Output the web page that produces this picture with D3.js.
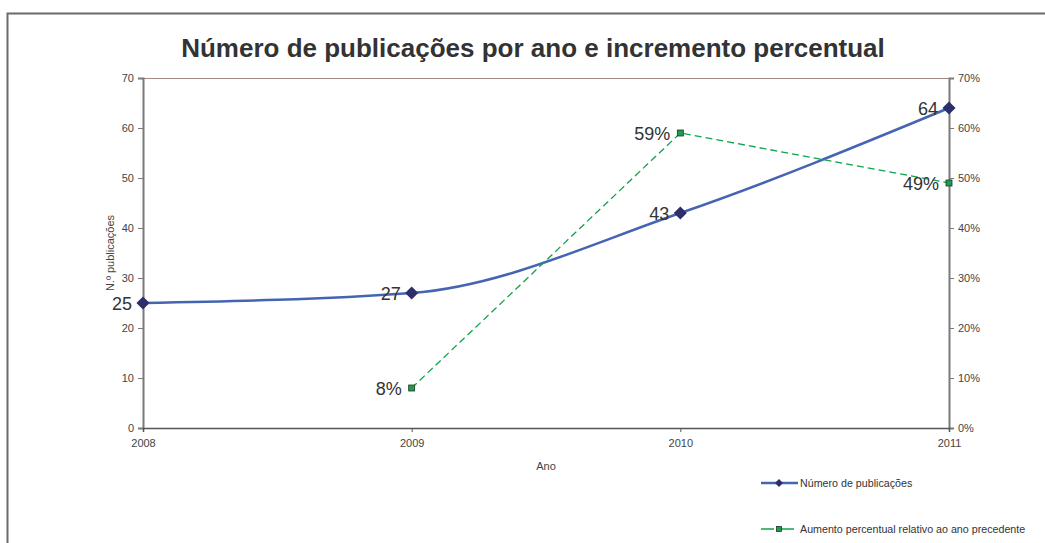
<!DOCTYPE html>
<html>
<head>
<meta charset="utf-8">
<script src="https://cdn.jsdelivr.net/npm/d3@7"></script>
<style>
  body { margin: 0; background: #fff; }
  svg { display: block; font-family: "Liberation Sans", Arial, sans-serif; }
</style>
</head>
<body>
<div id="chart"></div>
<script>
// data
const anos = [2008, 2009, 2010, 2011];
const publicacoes = [25, 27, 43, 64];
const anosPct = [2009, 2010, 2011];
const aumentoPct = [0.08, 0.59, 0.49];
const yTicks = [0, 10, 20, 30, 40, 50, 60, 70];
const pctTicks = [0, 0.1, 0.2, 0.3, 0.4, 0.5, 0.6, 0.7];

const width = 1045, height = 543;
const m = { left: 143, right: 949, top: 78, bottom: 428 };

const svg = d3.select('#chart').append('svg')
    .attr('width', width)
    .attr('height', height);

// outer frame (only left and top visible)
svg.append('path')
    .attr('d', 'M7.5,' + height + 'V13.5H' + width)
    .attr('fill', 'none')
    .attr('stroke', '#6b6b6b')
    .attr('stroke-width', 2);

const x = d3.scaleLinear().domain([2008, 2011]).range([m.left, m.right]);
const y = d3.scaleLinear().domain([0, 70]).range([m.bottom, m.top]);
const y2 = d3.scaleLinear().domain([0, 0.7]).range([m.bottom, m.top]);

// title
svg.append('text')
    .attr('x', 533)
    .attr('y', 57)
    .attr('text-anchor', 'middle')
    .attr('font-size', 26)
    .attr('font-weight', 'bold')
    .attr('fill', '#333')
    .text('Número de publicações por ano e incremento percentual');

// top line at 70
svg.append('line')
    .attr('x1', m.left).attr('x2', m.right)
    .attr('y1', y(70) + 0.5).attr('y2', y(70) + 0.5)
    .attr('stroke', '#a08a84');

// axes
const axLeft = svg.append('g')
    .attr('transform', 'translate(' + m.left + ',0)')
    .call(d3.axisLeft(y).tickValues(yTicks).tickSize(5).tickPadding(4));
const axRight = svg.append('g')
    .attr('transform', 'translate(' + m.right + ',0)')
    .call(d3.axisRight(y2).tickValues(pctTicks).tickSize(5).tickPadding(4)
        .tickFormat(d3.format('.0%')));
const axBottom = svg.append('g')
    .attr('transform', 'translate(0,' + m.bottom + ')')
    .call(d3.axisBottom(x).tickValues(anos).tickSize(4).tickPadding(7)
        .tickFormat(d3.format('d')));

[axLeft, axRight].forEach(function (g) {
  g.select('.domain').attr('stroke', '#7a7a7a').attr('stroke-width', 2);
  g.selectAll('.tick line').attr('stroke', '#7a7a7a');
});
axBottom.select('.domain').attr('stroke', '#555').attr('stroke-width', 1.5);
axBottom.selectAll('.tick line').attr('stroke', '#555');
svg.selectAll('.tick text')
    .attr('font-family', '"Liberation Sans", Arial, sans-serif')
    .attr('font-size', 11)
    .attr('fill', '#444');

// axis titles
svg.append('text')
    .attr('transform', 'translate(114,' + (m.top + m.bottom) / 2 + ') rotate(-90)')
    .attr('text-anchor', 'middle')
    .attr('font-size', 11)
    .attr('fill', '#444')
    .text('N.º publicações');
svg.append('text')
    .attr('x', (m.left + m.right) / 2)
    .attr('y', 470)
    .attr('text-anchor', 'middle')
    .attr('font-size', 11)
    .attr('fill', '#444')
    .text('Ano');

// series 1: smoothed line
const pubData = anos.map(function (a, i) { return { x: a, v: publicacoes[i] }; });
const pctData = anosPct.map(function (a, i) { return { x: a, v: aumentoPct[i] }; });

svg.append('path')
    .datum(pubData)
    .attr('fill', 'none')
    .attr('stroke', '#4565b3')
    .attr('stroke-width', 2.5)
    .attr('d', d3.line().x(d => x(d.x)).y(d => y(d.v)).curve(d3.curveMonotoneX));

// series 2: dashed line
svg.append('path')
    .datum(pctData)
    .attr('fill', 'none')
    .attr('stroke', '#12a24c')
    .attr('stroke-width', 1.3)
    .attr('stroke-dasharray', '7,4')
    .attr('d', d3.line().x(d => x(d.x)).y(d => y2(d.v)));

const diamond = d3.symbol().type(d3.symbolDiamond2).size(110);

svg.selectAll('.pubMark').data(pubData).enter().append('path')
    .attr('class', 'pubMark')
    .attr('transform', d => 'translate(' + x(d.x) + ',' + y(d.v) + ')')
    .attr('d', diamond)
    .attr('fill', '#2e2f6a');

svg.selectAll('.pctMark').data(pctData).enter().append('rect')
    .attr('class', 'pctMark')
    .attr('x', d => x(d.x) - 3).attr('y', d => y2(d.v) - 3)
    .attr('width', 6).attr('height', 6)
    .attr('fill', '#1f9a50')
    .attr('stroke', '#1c3b22')
    .attr('stroke-width', 0.8);

// data labels
svg.selectAll('.pubLabel').data(pubData).enter().append('text')
    .attr('x', d => x(d.x) - 11)
    .attr('y', d => y(d.v) + 7)
    .attr('text-anchor', 'end')
    .attr('font-size', 18)
    .attr('fill', '#333')
    .text(d => d.v);

svg.selectAll('.pctLabel').data(pctData).enter().append('text')
    .attr('x', d => x(d.x) - 10)
    .attr('y', d => y2(d.v) + 7)
    .attr('text-anchor', 'end')
    .attr('font-size', 18)
    .attr('fill', '#333')
    .text(d => d3.format('.0%')(d.v));

// legend
const legend = [
  { label: 'Número de publicações', y: 483, color: '#4565b3', width: 2.5, x2: 798, dash: null, mark: 'diamond' },
  { label: 'Aumento percentual relativo ao ano precedente', y: 529, color: '#12a24c', width: 1.6, x2: 794, dash: '13,7,13', mark: 'square' }
];
const lg = svg.selectAll('.lg').data(legend).enter().append('g')
    .attr('transform', d => 'translate(0,' + d.y + ')');
lg.append('line')
    .attr('x1', 761).attr('x2', d => d.x2)
    .attr('stroke', d => d.color)
    .attr('stroke-width', d => d.width)
    .attr('stroke-dasharray', d => d.dash);
lg.each(function (d) {
  const g = d3.select(this);
  if (d.mark === 'diamond') {
    g.append('path')
        .attr('transform', 'translate(779,0)')
        .attr('d', d3.symbol().type(d3.symbolDiamond2).size(40))
        .attr('fill', '#2e2f6a');
  } else {
    g.append('rect')
        .attr('x', 776.5).attr('y', -2.5).attr('width', 5).attr('height', 5)
        .attr('fill', '#1f9a50').attr('stroke', '#1c3b22').attr('stroke-width', 0.8);
  }
});
lg.append('text')
    .attr('x', 800)
    .attr('y', 4)
    .attr('font-size', 10.7)
    .attr('fill', '#333')
    .text(d => d.label);
</script>
</body>
</html>
